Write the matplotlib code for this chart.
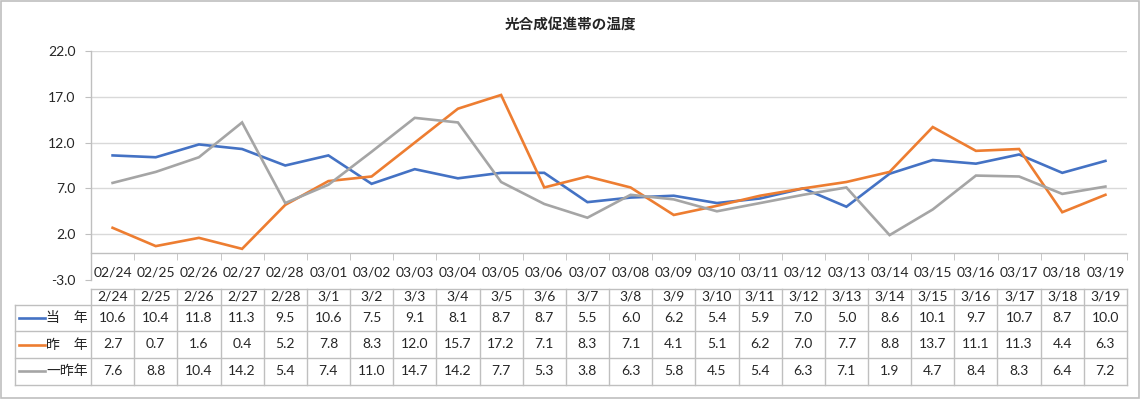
import matplotlib
matplotlib.use("Agg")
import matplotlib.pyplot as plt
from matplotlib.lines import Line2D
from matplotlib.patches import Rectangle

plt.rcParams['font.family'] = ['Lato', 'Noto Sans CJK JP', 'DejaVu Sans']

title = "光合成促進帯の温度"
axis_labels = ["02/24", "02/25", "02/26", "02/27", "02/28", "03/01", "03/02", "03/03",
               "03/04", "03/05", "03/06", "03/07", "03/08", "03/09", "03/10", "03/11",
               "03/12", "03/13", "03/14", "03/15", "03/16", "03/17", "03/18", "03/19"]
table_labels = ["2/24", "2/25", "2/26", "2/27", "2/28", "3/1", "3/2", "3/3", "3/4", "3/5",
                "3/6", "3/7", "3/8", "3/9", "3/10", "3/11", "3/12", "3/13", "3/14", "3/15",
                "3/16", "3/17", "3/18", "3/19"]
series_names = ["当　年", "昨　年", "一昨年"]
this_year = [10.6, 10.4, 11.8, 11.3, 9.5, 10.6, 7.5, 9.1, 8.1, 8.7, 8.7, 5.5, 6.0, 6.2,
             5.4, 5.9, 7.0, 5.0, 8.6, 10.1, 9.7, 10.7, 8.7, 10.0]
last_year = [2.7, 0.7, 1.6, 0.4, 5.2, 7.8, 8.3, 12.0, 15.7, 17.2, 7.1, 8.3, 7.1, 4.1,
             5.1, 6.2, 7.0, 7.7, 8.8, 13.7, 11.1, 11.3, 4.4, 6.3]
two_years_ago = [7.6, 8.8, 10.4, 14.2, 5.4, 7.4, 11.0, 14.7, 14.2, 7.7, 5.3, 3.8, 6.3, 5.8,
                 4.5, 5.4, 6.3, 7.1, 1.9, 4.7, 8.4, 8.3, 6.4, 7.2]
series = [this_year, last_year, two_years_ago]
colors = ["#4472C4", "#ED7D31", "#A5A5A5"]
yticks = [-3.0, 2.0, 7.0, 12.0, 17.0, 22.0]

W, H = 1141, 400
fig = plt.figure(figsize=(W / 100, H / 100), dpi=100)
fig.patch.set_facecolor("white")

def fx(px):
    return px / W

def fy(py):
    return 1 - py / H

# outer border
fig.add_artist(Rectangle((fx(1), fy(398)), fx(1138), 397 / H, transform=fig.transFigure,
                         fill=False, edgecolor="#BFBFBF", linewidth=1.2))

txt_color = "#262626"
tick_fs = 10
cjk = ['Noto Sans CJK JP', 'DejaVu Sans']

# main axes
L, R, T, B = 91, 1127, 51, 280
ax = fig.add_axes([fx(L), fy(B), fx(R - L), (B - T) / H])
n = len(axis_labels)
x = list(range(n))
ax.set_xlim(-0.5, n - 0.5)
ax.set_ylim(yticks[0], yticks[-1])
for yv in yticks[1:]:
    ax.axhline(yv, color="#D9D9D9", linewidth=1.0, zorder=1)
for s, c in zip(series, colors):
    ax.plot(x, s, color=c, linewidth=1.9, zorder=3, solid_joinstyle="miter")

for sp in ["top", "right"]:
    ax.spines[sp].set_visible(False)
ax.spines["left"].set_color("#BFBFBF")
ax.spines["left"].set_linewidth(1.0)
ax.spines["bottom"].set_position(("data", 0))
ax.spines["bottom"].set_color("#BFBFBF")
ax.spines["bottom"].set_linewidth(1.0)

ax.set_yticks(yticks)
ax.set_yticklabels([f"{v:.1f}" for v in yticks])
ax.tick_params(axis="y", length=4, color="#BFBFBF", labelsize=tick_fs, labelcolor=txt_color, pad=7)
ax.set_xticks(x)
ax.set_xticklabels(axis_labels)
ax.tick_params(axis="x", which="major", length=0, labelsize=tick_fs, labelcolor=txt_color, pad=10)
ax.set_xticks([i - 0.5 for i in range(n + 1)], minor=True)
ax.tick_params(axis="x", which="minor", length=5, color="#BFBFBF", direction="out")

fig.text(0.5, fy(24), title, ha="center", va="center", fontsize=10.5, fontweight="bold",
         color=txt_color, family=cjk)

# data table
TL, TR = 15, 1127
rows_y = [288.5, 304.5, 331.2, 357.8, 384.5]
line_kw = dict(color="#BFBFBF", linewidth=1.0, transform=fig.transFigure)
cw = (R - L) / n
fig.add_artist(Line2D([fx(L), fx(R)], [fy(rows_y[0]), fy(rows_y[0])], **line_kw))
for yy in rows_y[1:]:
    fig.add_artist(Line2D([fx(TL), fx(R)], [fy(yy), fy(yy)], **line_kw))
fig.add_artist(Line2D([fx(TL), fx(TL)], [fy(rows_y[1]), fy(rows_y[-1])], **line_kw))
for i in range(n + 1):
    xx = L + i * cw
    fig.add_artist(Line2D([fx(xx), fx(xx)], [fy(rows_y[0]), fy(rows_y[-1])], **line_kw))
for i, lab in enumerate(table_labels):
    xc = L + (i + 0.5) * cw
    fig.text(fx(xc), fy((rows_y[0] + rows_y[1]) / 2), lab, ha="center", va="center",
             fontsize=tick_fs, color=txt_color)
for r, (name, s, c) in enumerate(zip(series_names, series, colors)):
    yc = fy((rows_y[r + 1] + rows_y[r + 2]) / 2)
    fig.add_artist(Line2D([fx(19), fx(45)], [yc, yc], color=c, linewidth=1.9,
                          transform=fig.transFigure))
    fig.text(fx(67), yc, name, ha="center", va="center", fontsize=tick_fs, color=txt_color,
             family=cjk)
    for i, v in enumerate(s):
        xc = L + (i + 0.5) * cw
        fig.text(fx(xc), yc, f"{v:.1f}", ha="center", va="center", fontsize=tick_fs,
                 color=txt_color)

fig.savefig("out.png", dpi=100, facecolor="white")
